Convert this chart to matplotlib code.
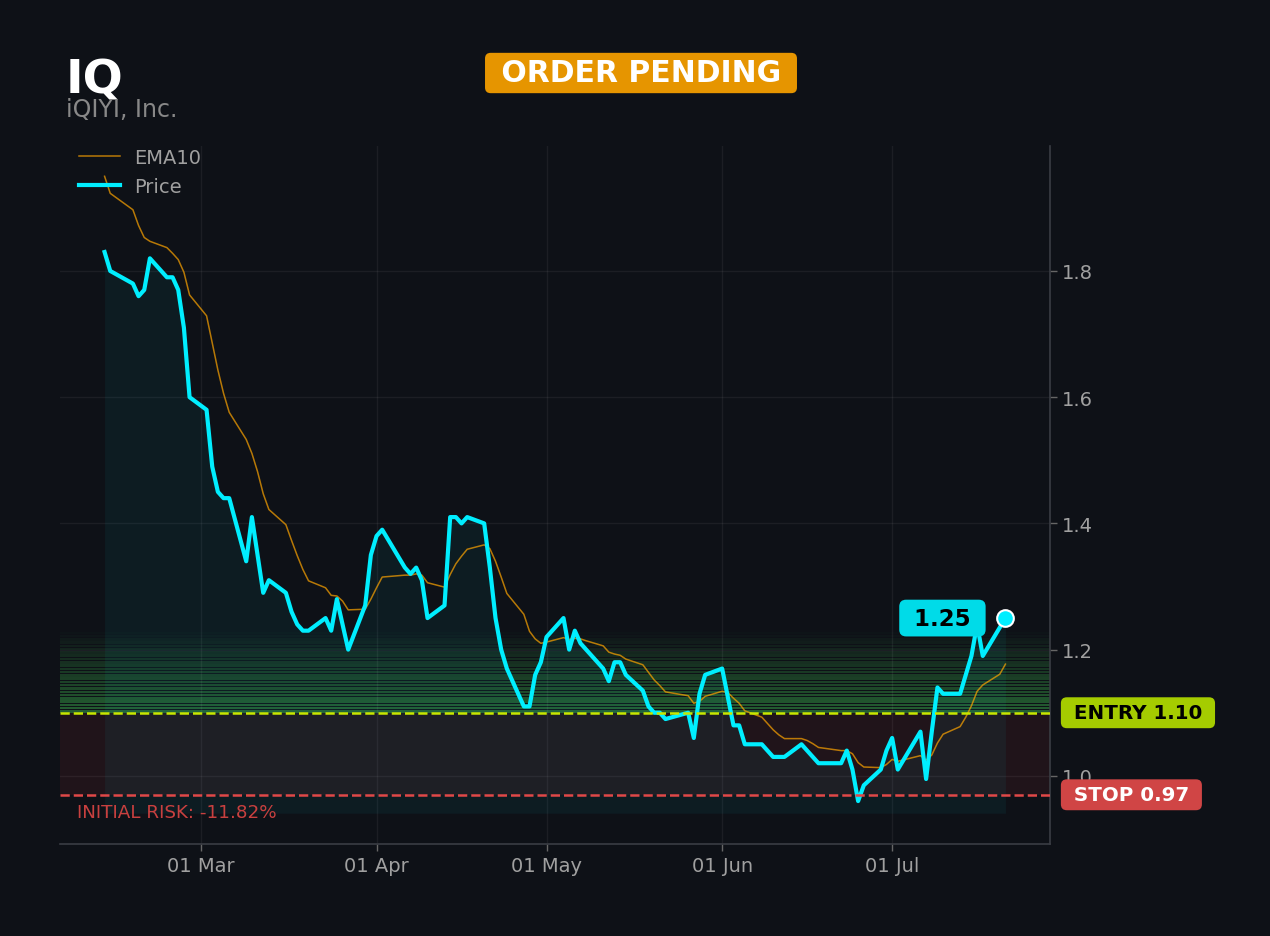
import matplotlib
matplotlib.use("Agg")
import matplotlib.pyplot as plt
import matplotlib.dates as mdates
import matplotlib.transforms as mtransforms
import numpy as np
import pandas as pd

# ---------------- data ----------------
ticker = "IQ"
company = "iQIYI, Inc."
status = "ORDER PENDING"
start_date = "2026-02-12"
end_date = "2026-07-21"
holidays = ["2026-02-16", "2026-04-03", "2026-05-25", "2026-06-19", "2026-07-03"]

price = [
    # Feb
    1.83, 1.80, 1.78, 1.76, 1.77, 1.82, 1.79, 1.79, 1.77, 1.71, 1.60,
    # Mar
    1.58, 1.49, 1.45, 1.44, 1.44, 1.34, 1.41, 1.35, 1.29, 1.31, 1.29,
    1.26, 1.24, 1.23, 1.23, 1.25, 1.23, 1.28, 1.24, 1.20, 1.27, 1.35,
    # Apr
    1.38, 1.39, 1.33, 1.32, 1.33, 1.31, 1.25, 1.27, 1.41, 1.41, 1.40,
    1.41, 1.40, 1.33, 1.25, 1.20, 1.17, 1.11, 1.11, 1.16, 1.18,
    # May
    1.22, 1.25, 1.20, 1.23, 1.21, 1.20, 1.17, 1.15, 1.18, 1.18, 1.16,
    1.135, 1.11, 1.10, 1.10, 1.09, 1.10, 1.06, 1.13, 1.16,
    # Jun
    1.17, 1.125, 1.08, 1.08, 1.05, 1.05, 1.04, 1.03, 1.03, 1.03, 1.05,
    1.04, 1.03, 1.02, 1.02, 1.04, 1.01, 0.96, 0.985, 1.01, 1.04,
    # Jul
    1.06, 1.01, 1.07, 0.995, 1.07, 1.14, 1.13, 1.13, 1.16, 1.19, 1.24,
    1.19, 1.235, 1.25,
]

ema10 = [
    # Feb
    1.950, 1.923, 1.897, 1.872, 1.853, 1.847, 1.837, 1.828, 1.818, 1.798, 1.762,
    # Mar
    1.729, 1.686, 1.643, 1.606, 1.576, 1.533, 1.511, 1.482, 1.447, 1.422, 1.398,
    1.373, 1.349, 1.327, 1.309, 1.298, 1.286, 1.285, 1.277, 1.263, 1.264, 1.280,
    # Apr
    1.298, 1.315, 1.318, 1.318, 1.320, 1.318, 1.306, 1.299, 1.319, 1.336, 1.348,
    1.359, 1.366, 1.360, 1.340, 1.315, 1.289, 1.256, 1.229, 1.217, 1.210,
    # May
    1.212, 1.219, 1.216, 1.218, 1.217, 1.214, 1.206, 1.196, 1.193, 1.191, 1.185,
    1.176, 1.164, 1.152, 1.143, 1.133, 1.127, 1.115, 1.118, 1.126,
    # Jun
    1.134, 1.132, 1.123, 1.115, 1.103, 1.093, 1.083, 1.073, 1.065, 1.059, 1.059,
    1.056, 1.051, 1.045, 1.040, 1.040, 1.035, 1.021, 1.014, 1.013, 1.018,
    # Jul
    1.026, 1.023, 1.032, 1.025, 1.033, 1.052, 1.066, 1.078, 1.093, 1.111, 1.134,
    1.144, 1.161, 1.177,
]

entry = 1.10
stop = 0.97
x_tick_dates = ["2026-03-01", "2026-04-01", "2026-05-01", "2026-06-01", "2026-07-01"]
y_ticks = [1.0, 1.2, 1.4, 1.6, 1.8]

# ---------------- styles ----------------
BG = "#0e1117"
CYAN = "#00eeff"
CYAN_BOX = "#00dbe8"
EMA_C = "#ffa500"
ENTRY_C = "#c8e600"
ENTRY_BOX = "#a5cc00"
STOP_C = "#e04848"
STOP_BOX = "#d04545"
GREEN = "#3fb950"
TXT = "#a0a0a0"

dates = pd.bdate_range(start_date, end_date)
dates = dates[~dates.isin(pd.to_datetime(holidays))]
assert len(dates) == len(price) == len(ema10)

fig = plt.figure(figsize=(12.7, 9.37), dpi=100, facecolor=BG)
ax = fig.add_axes([60 / 1270, 1 - 845 / 937, 990 / 1270, 698 / 937])
ax.set_facecolor(BG)

# risk zone
ax.axhspan(stop, entry, color="#ff4444", alpha=0.08, lw=0, zorder=0)
# reward gradient (1R), drawn as thin strips
target = entry + (entry - stop)
N = 25
step = (target - entry) / N
for i in range(N):
    lo = entry + i * step
    ax.axhspan(lo, lo + step * 0.75, color=GREEN, alpha=0.46 * (1 - i / N),
               lw=0, zorder=0.5)

# price fill
base = min(price) * 0.98
ax.fill_between(dates, price, base, color=CYAN, alpha=0.05, lw=0, zorder=1)

ax.plot(dates, ema10, color=EMA_C, alpha=0.7, lw=1.1, label="EMA10", zorder=3)
ax.plot(dates, price, color=CYAN, lw=3, label="Price", zorder=4,
        solid_joinstyle="round")

ax.axhline(entry, color=ENTRY_C, ls="--", lw=1.8, zorder=5)
ax.axhline(stop, color=STOP_C, ls="--", lw=1.8, zorder=5)

# last point
ax.plot(dates[-1], price[-1], "o", ms=12, mfc=CYAN, mec="white", mew=1.5, zorder=7)
ax.annotate(f" {price[-1]:.2f} ", xy=(dates[-1], price[-1]), xytext=(-63, 0),
            textcoords="offset pixels", ha="center", va="center",
            fontsize=16.5, fontweight="bold", color="black", zorder=8,
            bbox=dict(boxstyle="round,pad=0.3", fc=CYAN_BOX, ec="none"))

# axes limits / ticks
x0 = mdates.date2num(pd.Timestamp("2026-03-01")) - 141 / 5.67
x1 = mdates.date2num(pd.Timestamp("2026-07-01")) + 158 / 5.67
ax.set_xlim(x0, x1)
ax.set_ylim(0.892, 1.998)
ax.set_xticks(pd.to_datetime(x_tick_dates))
ax.xaxis.set_major_formatter(mdates.DateFormatter("%d %b"))
ax.set_yticks(y_ticks)
ax.set_yticklabels([f"{v:.1f}" for v in y_ticks])
ax.yaxis.tick_right()
ax.tick_params(labelsize=14, length=5, width=1)
ax.tick_params(axis="x", colors="#666666", labelcolor=TXT)
ax.tick_params(axis="y", colors="#666666", labelcolor=TXT)
ax.grid(True, color="#ffffff", alpha=0.06, lw=1)
ax.set_axisbelow(True)
for s in ["top", "left"]:
    ax.spines[s].set_visible(False)
for s in ["right", "bottom"]:
    ax.spines[s].set_color("#3a3d44")
    ax.spines[s].set_linewidth(1.2)

leg = ax.legend(loc="upper left", frameon=False, fontsize=14, labelcolor=TXT,
                handlelength=2.15, handletextpad=0.7, labelspacing=0.5,
                borderaxespad=0.0, bbox_to_anchor=(0.011, 1.008))

# side labels
tr = mtransforms.blended_transform_factory(ax.transAxes, ax.transData)
ax.text(1.017, entry, f" ENTRY {entry:.2f} ", transform=tr, ha="left", va="center",
        fontsize=14.3, fontweight="bold", color="black", clip_on=False,
        bbox=dict(boxstyle="round,pad=0.3", fc=ENTRY_BOX, ec="none"))
ax.text(1.017, stop, f" STOP {stop:.2f} ", transform=tr, ha="left", va="center",
        fontsize=14.3, fontweight="bold", color="white", clip_on=False,
        bbox=dict(boxstyle="round,pad=0.3", fc=STOP_BOX, ec="none"))
risk = (stop - entry) / entry * 100
ax.text(0.017, stop - 0.027, f"INITIAL RISK: {risk:.2f}%", transform=tr,
        ha="left", va="center", fontsize=13.2, color="#c8403f")

# header
fig.text(66 / 1270, 1 - 93 / 937, ticker, fontsize=34, fontweight="bold",
         color="white", va="baseline", ha="left")
fig.text(66 / 1270, 1 - 117 / 937, company, fontsize=17, color="#888888",
         va="baseline", ha="left")
fig.text(641 / 1270, 1 - 74 / 937, f" {status} ", fontsize=21.5, fontweight="bold",
         color="white", ha="center", va="center",
         bbox=dict(boxstyle="round,pad=0.19", fc="#e69500", ec="none"))

fig.savefig("out.png", dpi=100, facecolor=BG)
